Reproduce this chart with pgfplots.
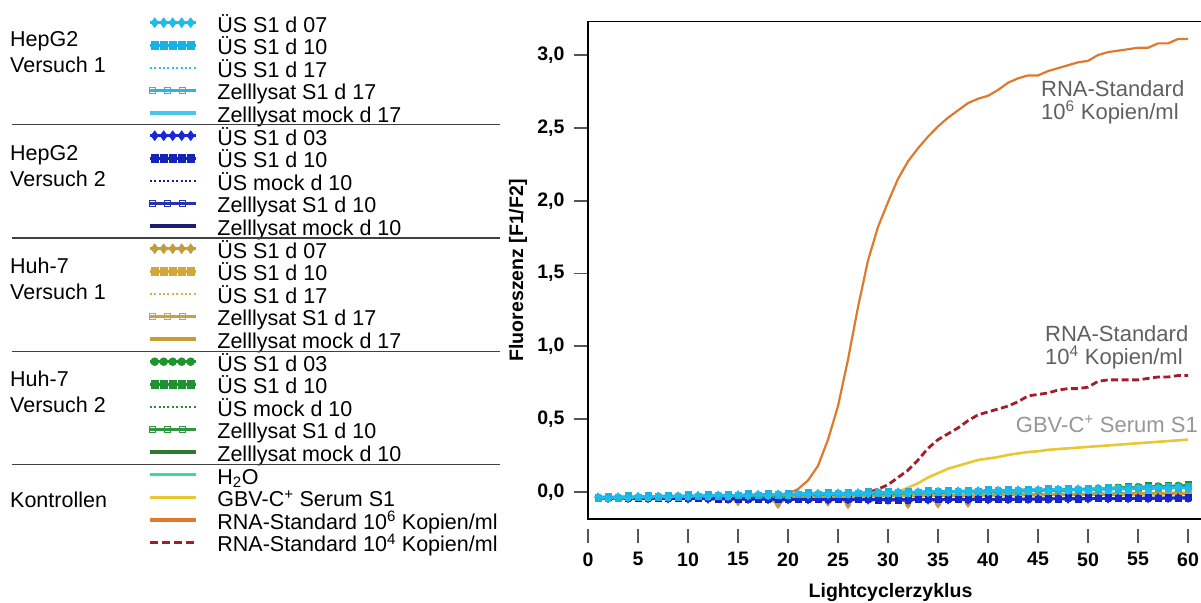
\documentclass[border=0pt]{standalone}
\usepackage{fontspec}
\setmainfont{Liberation Sans}
\usepackage{pgfplots}
\pgfplotsset{compat=1.18}

% HepG2, Versuch 1
\definecolor{cyanA}{RGB}{30,188,232}
\definecolor{cyanB}{RGB}{25,178,226}
\definecolor{cyanC}{RGB}{40,192,230}
\definecolor{cyanD}{RGB}{50,178,222}
\definecolor{cyanE}{RGB}{70,198,235}
% HepG2, Versuch 2
\definecolor{blueA}{RGB}{25,40,215}
\definecolor{blueB}{RGB}{22,35,185}
\definecolor{blueC}{RGB}{30,30,120}
\definecolor{blueD}{RGB}{40,50,175}
\definecolor{blueE}{RGB}{28,28,115}
% Huh-7, Versuch 1
\definecolor{goldA}{RGB}{196,156,60}
\definecolor{goldB}{RGB}{210,168,58}
\definecolor{goldC}{RGB}{214,176,70}
\definecolor{goldD}{RGB}{200,160,75}
\definecolor{goldE}{RGB}{200,158,50}
% Huh-7, Versuch 2
\definecolor{greenA}{RGB}{30,150,45}
\definecolor{greenB}{RGB}{30,145,48}
\definecolor{greenC}{RGB}{45,135,60}
\definecolor{greenD}{RGB}{50,150,65}
\definecolor{greenE}{RGB}{45,120,50}
% Kontrollen
\definecolor{waterc}{RGB}{58,219,150}
\definecolor{serumc}{RGB}{232,200,50}
\definecolor{stdsix}{RGB}{221,122,44}
\definecolor{stdfour}{RGB}{163,30,42}
\definecolor{tickgray}{RGB}{85,85,85}
\definecolor{notegray}{RGB}{96,96,96}
\definecolor{notelight}{RGB}{150,150,150}

\newcommand\legfont{\fontsize{21.5}{22.65}\selectfont}
\newcommand\tickfont{\bfseries\fontsize{19.5}{20}\selectfont}
\newcommand\notefont{\fontsize{22}{23}\selectfont}

\pgfplotsset{
  legmark/.style={legend image code/.code={
      \draw[##1,mark=none] (0pt,0pt) -- (46pt,0pt);
      \draw[##1,only marks] plot coordinates {(5pt,0pt) (14pt,0pt) (23pt,0pt) (32pt,0pt) (41pt,0pt)};}},
  legopen/.style={legend image code/.code={
      \draw[##1,mark=none] (0pt,0pt) -- (46pt,0pt);
      \draw[##1,only marks] plot coordinates {(3pt,0pt) (18pt,0pt) (33pt,0pt)};}},
  legline/.style={legend image code/.code={
      \draw[##1,mark=none] (0pt,0pt) -- (46pt,0pt);}},
  sdiam/.style={line width=2.6pt, mark=diamond*, mark size=3.3pt, mark options={solid}},
  ssq/.style={line width=2.6pt, mark=square*, mark size=2.9pt, mark options={solid}},
  scirc/.style={line width=2.6pt, mark=*, mark size=2.9pt, mark options={solid}},
  sdot/.style={line width=2.2pt, dash pattern=on 2pt off 2.4pt, mark=none},
  sopen/.style={line width=2.6pt, mark=square, mark size=3pt, mark options={solid, fill=white, line width=1.5pt}},
  ssolid/.style={line width=3.4pt, mark=none},
  sdash/.style={line width=3pt, dash pattern=on 8pt off 4pt, mark=none},
  % thinner strokes and marks for the curves themselves
  inplot/.style={line width=2.2pt, mark size=2.4pt},
  inplotline/.style={line width=2.6pt},
}

\begin{document}
\begin{tikzpicture}[x=1pt,y=1pt]
\path[use as bounding box] (0,0) rectangle (1201,602);

\begin{axis}[
  at={(588pt,83pt)}, anchor=south west,
  scale only axis, width=614pt, height=497.3pt,
  xmin=0, xmax=61.4, ymin=-0.185, ymax=3.229,
  clip mode=individual,
  axis line style={line width=1.6pt, black},
  xtick=\empty,
  ytick={0,0.5,1,1.5,2,2.5,3},
  ytick pos=left, tick align=outside, major tick length=14pt,
  ytick style={color=tickgray, line width=1.8pt},
  yticklabel style={font=\tickfont, xshift=-6pt,
    /pgf/number format/.cd, use comma, fixed, fixed zerofill, precision=1, assume math mode=true},
  ylabel={Fluoreszenz [F1/F2]},
  every axis y label/.style={at={(axis description cs:-0.114,0.5)}, rotate=90, anchor=center, font=\tickfont},
  xlabel={Lightcyclerzyklus},
  every axis x label/.style={at={(axis description cs:0.4927,-0.1468)}, anchor=center, font=\tickfont},
  legend cell align=left,
  legend style={at={(axis description cs:-0.7166,1.0207)}, anchor=north west,
    draw=none, fill=none, inner sep=0pt, outer sep=0pt,
    row sep=0pt, column sep=20pt, font=\legfont,
    nodes={inner sep=0pt, outer sep=0pt, text height=20.6pt, text depth=2pt}},
]

% legend entries, in the order of the key
\addlegendimage{legmark, sdiam, color=cyanA}\addlegendentry{ÜS S1 d 07}
\addlegendimage{legmark, ssq, color=cyanB}\addlegendentry{ÜS S1 d 10}
\addlegendimage{legline, sdot, color=cyanC}\addlegendentry{ÜS S1 d 17}
\addlegendimage{legopen, sopen, color=cyanD}\addlegendentry{Zelllysat S1 d 17}
\addlegendimage{legline, ssolid, color=cyanE}\addlegendentry{Zelllysat mock d 17}
\addlegendimage{legmark, sdiam, color=blueA}\addlegendentry{ÜS S1 d 03}
\addlegendimage{legmark, ssq, color=blueB}\addlegendentry{ÜS S1 d 10}
\addlegendimage{legline, sdot, color=blueC}\addlegendentry{ÜS mock d 10}
\addlegendimage{legopen, sopen, color=blueD}\addlegendentry{Zelllysat S1 d 10}
\addlegendimage{legline, ssolid, color=blueE}\addlegendentry{Zelllysat mock d 10}
\addlegendimage{legmark, sdiam, color=goldA}\addlegendentry{ÜS S1 d 07}
\addlegendimage{legmark, ssq, color=goldB}\addlegendentry{ÜS S1 d 10}
\addlegendimage{legline, sdot, color=goldC}\addlegendentry{ÜS S1 d 17}
\addlegendimage{legopen, sopen, color=goldD}\addlegendentry{Zelllysat S1 d 17}
\addlegendimage{legline, ssolid, color=goldE}\addlegendentry{Zelllysat mock d 17}
\addlegendimage{legmark, scirc, color=greenA}\addlegendentry{ÜS S1 d 03}
\addlegendimage{legmark, ssq, color=greenB}\addlegendentry{ÜS S1 d 10}
\addlegendimage{legline, sdot, color=greenC}\addlegendentry{ÜS mock d 10}
\addlegendimage{legopen, sopen, color=greenD}\addlegendentry{Zelllysat S1 d 10}
\addlegendimage{legline, ssolid, color=greenE}\addlegendentry{Zelllysat mock d 10}
\addlegendimage{legline, ssolid, color=waterc}\addlegendentry{H\textsubscript{2}O}
\addlegendimage{legline, ssolid, color=serumc}\addlegendentry{GBV-C\textsuperscript{+} Serum S1}
\addlegendimage{legline, ssolid, color=stdsix}\addlegendentry{RNA-Standard 10\textsuperscript{6} Kopien/ml}
\addlegendimage{legline, sdash, color=stdfour}\addlegendentry{RNA-Standard 10\textsuperscript{4} Kopien/ml}

% Kontrollen
\addplot[forget plot, ssolid, line width=2.4pt, color=waterc] coordinates {(1,-.042)(4,-.040)(7,-.039)(10,-.037)(13,-.035)(16,-.033)(19,-.032)(22,-.030)(25,-.028)(28,-.026)(31,-.024)(34,-.022)(37,-.020)(40,-.018)(43,-.016)(46,-.014)(49,-.012)(52,-.010)(55,-.008)(58,-.006)(60,-.005)};
\addplot[forget plot, ssolid, line width=2.6pt, color=serumc] coordinates {(1,-.033)(5,-.033)(10,-.032)(15,-.032)(20,-.031)(25,-.030)(29,-.028)(30,-.020)(31,.000)(32,.030)(33,.060)(34,.100)(35,.130)(36,.160)(37,.180)(38,.200)(39,.220)(40,.230)(41,.240)(42,.255)(43,.265)(44,.275)(45,.280)(46,.290)(47,.295)(48,.300)(49,.305)(50,.310)(51,.315)(52,.320)(53,.325)(54,.330)(55,.335)(56,.340)(57,.345)(58,.350)(59,.355)(60,.360)};
\addplot[forget plot, ssolid, line width=2.2pt, color=stdsix] coordinates {(1,-.035)(2,-.036)(3,-.034)(4,-.035)(5,-.035)(6,-.034)(7,-.035)(8,-.034)(9,-.033)(10,-.033)(11,-.033)(12,-.032)(13,-.032)(14,-.031)(15,-.030)(16,-.029)(17,-.028)(18,-.025)(19,-.020)(20,-.010)(21,.020)(22,.080)(23,.180)(24,.360)(25,.590)(26,.910)(27,1.270)(28,1.590)(29,1.820)(30,1.990)(31,2.150)(32,2.270)(33,2.360)(34,2.440)(35,2.510)(36,2.570)(37,2.620)(38,2.670)(39,2.700)(40,2.720)(41,2.760)(42,2.810)(43,2.840)(44,2.860)(45,2.860)(46,2.890)(47,2.910)(48,2.930)(49,2.950)(50,2.960)(51,3.000)(52,3.020)(53,3.030)(54,3.040)(55,3.050)(56,3.050)(57,3.080)(58,3.080)(59,3.110)(60,3.110)};
\addplot[forget plot, sdash, line width=2.8pt, dash pattern=on 7pt off 3.5pt, color=stdfour] coordinates {(1,-.035)(5,-.035)(10,-.034)(15,-.033)(20,-.032)(24,-.030)(26,-.026)(27,-.020)(28,-.005)(29,.020)(30,.050)(31,.100)(32,.150)(33,.220)(34,.300)(35,.360)(36,.400)(37,.440)(38,.490)(39,.530)(40,.550)(41,.570)(42,.590)(43,.620)(44,.660)(45,.670)(46,.680)(47,.700)(48,.710)(49,.710)(50,.720)(51,.760)(52,.770)(53,.770)(54,.770)(55,.770)(56,.780)(57,.790)(58,.790)(59,.800)(60,.800)};

% Huh-7, Versuch 1
\addplot[forget plot, ssolid, inplotline, color=goldE] coordinates {(1,-.041)(4,-.040)(7,-.038)(10,-.037)(13,-.035)(16,-.034)(19,-.032)(22,-.031)(25,-.030)(28,-.028)(31,-.027)(34,-.025)(37,-.024)(40,-.022)(43,-.021)(46,-.020)(49,-.018)(52,-.017)(55,-.015)(58,-.014)(60,-.013)};
\addplot[forget plot, sopen, inplot, color=goldD] coordinates {(1,-.043)(3,-.032)(5,-.041)(7,-.030)(9,-.039)(11,-.028)(13,-.037)(15,-.026)(17,-.035)(19,-.024)(21,-.033)(23,-.022)(25,-.032)(27,-.021)(29,-.030)(31,-.019)(33,-.028)(35,-.017)(37,-.026)(39,-.015)(41,-.024)(43,-.013)(45,-.022)(47,-.011)(49,-.020)(51,-.009)(53,-.018)(55,-.007)(57,-.016)(59,-.005)(60,-.015)};
\addplot[forget plot, sdot, color=goldC] coordinates {(1,-.038)(4,-.037)(7,-.035)(10,-.034)(13,-.032)(16,-.031)(19,-.029)(22,-.028)(25,-.027)(28,-.025)(31,-.024)(34,-.022)(37,-.021)(40,-.019)(43,-.018)(46,-.017)(49,-.015)(52,-.014)(55,-.012)(58,-.011)(60,-.010)};
\addplot[forget plot, ssq, inplot, color=goldB] coordinates {(1,-.042)(2,-.034)(3,-.041)(4,-.033)(5,-.040)(6,-.032)(7,-.039)(8,-.031)(9,-.038)(10,-.030)(11,-.037)(12,-.029)(13,-.036)(14,-.028)(15,-.035)(16,-.027)(17,-.034)(18,-.026)(19,-.033)(20,-.025)(21,-.032)(22,-.024)(23,-.031)(24,-.023)(25,-.031)(26,-.022)(27,-.030)(28,-.021)(29,-.029)(30,-.020)(31,-.028)(32,-.019)(33,-.027)(34,-.018)(35,-.026)(36,-.017)(37,-.025)(38,-.016)(39,-.024)(40,-.015)(41,-.023)(42,-.014)(43,-.022)(44,-.013)(45,-.021)(46,-.013)(47,-.020)(48,-.012)(49,-.019)(50,-.011)(51,-.018)(52,-.010)(53,-.017)(54,-.009)(55,-.016)(56,-.008)(57,-.015)(58,-.007)(59,-.014)(60,-.006)};
\addplot[forget plot, sdiam, inplot, color=goldA] coordinates {(1,-.032)(2,-.044)(3,-.031)(4,-.043)(5,-.030)(6,-.042)(7,-.029)(8,-.041)(9,-.028)(10,-.040)(11,-.027)(12,-.039)(13,-.026)(14,-.038)(15,-.070)(16,-.037)(17,-.025)(18,-.036)(19,-.088)(20,-.035)(21,-.023)(22,-.034)(23,-.022)(24,-.072)(25,-.021)(26,-.090)(27,-.020)(28,-.031)(29,-.019)(30,-.030)(31,-.018)(32,-.088)(33,-.017)(34,-.028)(35,-.085)(36,-.027)(37,-.015)(38,-.080)(39,-.014)(40,-.025)(41,-.013)(42,-.024)(43,-.012)(44,-.023)(45,-.011)(46,-.022)(47,-.010)(48,-.021)(49,-.009)(50,-.020)(51,-.008)(52,-.019)(53,-.007)(54,-.018)(55,-.006)(56,-.017)(57,-.005)(58,-.016)(59,-.004)(60,-.015)};

% Huh-7, Versuch 2
\addplot[forget plot, ssolid, inplotline, color=greenE] coordinates {(1,-.040)(4,-.037)(7,-.034)(10,-.030)(13,-.027)(16,-.023)(19,-.020)(22,-.016)(25,-.013)(28,-.009)(31,-.005)(34,-.002)(37,.002)(40,.005)(43,.009)(46,.012)(49,.016)(52,.024)(55,.032)(58,.038)(60,.042)};
\addplot[forget plot, sopen, inplot, color=greenD] coordinates {(1,-.036)(3,-.043)(5,-.033)(7,-.040)(9,-.029)(11,-.035)(13,-.024)(15,-.030)(17,-.019)(19,-.026)(21,-.014)(23,-.021)(25,-.010)(27,-.016)(29,-.005)(31,-.011)(33,.000)(35,-.007)(37,.005)(39,-.002)(41,.009)(43,.003)(45,.014)(47,.008)(49,.019)(51,.020)(53,.032)(55,.028)(57,.040)(59,.036)(60,.044)};
\addplot[forget plot, sdot, color=greenC] coordinates {(1,-.042)(4,-.038)(7,-.035)(10,-.031)(13,-.028)(16,-.024)(19,-.021)(22,-.017)(25,-.014)(28,-.010)(31,-.006)(34,-.003)(37,.001)(40,.004)(43,.008)(46,.011)(49,.015)(52,.022)(55,.030)(58,.036)(60,.040)};
\addplot[forget plot, ssq, inplot, color=greenB] coordinates {(1,-.044)(2,-.035)(3,-.042)(4,-.032)(5,-.039)(6,-.030)(7,-.037)(8,-.028)(9,-.035)(10,-.025)(11,-.032)(12,-.023)(13,-.030)(14,-.021)(15,-.027)(16,-.018)(17,-.025)(18,-.016)(19,-.023)(20,-.013)(21,-.020)(22,-.011)(23,-.018)(24,-.009)(25,-.016)(26,-.006)(27,-.013)(28,-.004)(29,-.011)(30,-.002)(31,-.008)(32,.001)(33,-.006)(34,.003)(35,-.004)(36,.006)(37,-.001)(38,.008)(39,.001)(40,.010)(41,.003)(42,.013)(43,.006)(44,.015)(45,.008)(46,.017)(47,.011)(48,.020)(49,.013)(50,.022)(51,.018)(52,.030)(53,.024)(54,.035)(55,.030)(56,.042)(57,.034)(58,.046)(59,.038)(60,.050)};
\addplot[forget plot, scirc, inplot, color=greenA] coordinates {(1,-.038)(2,-.047)(3,-.036)(4,-.044)(5,-.033)(6,-.042)(7,-.031)(8,-.040)(9,-.029)(10,-.037)(11,-.026)(12,-.035)(13,-.024)(14,-.033)(15,-.021)(16,-.030)(17,-.019)(18,-.028)(19,-.017)(20,-.025)(21,-.014)(22,-.023)(23,-.012)(24,-.021)(25,-.010)(26,-.018)(27,-.007)(28,-.016)(29,-.005)(30,-.014)(31,-.002)(32,-.011)(33,.000)(34,-.009)(35,.002)(36,-.006)(37,.005)(38,-.004)(39,.007)(40,-.002)(41,.009)(42,.001)(43,.012)(44,.003)(45,.014)(46,.005)(47,.017)(48,.008)(49,.019)(50,.010)(51,.028)(52,.020)(53,.033)(54,.026)(55,.039)(56,.030)(57,.043)(58,.035)(59,.047)(60,.040)};

% HepG2, Versuch 2
\addplot[forget plot, ssolid, inplotline, color=blueE] coordinates {(1,-.040)(3,-.041)(5,-.042)(7,-.043)(9,-.044)(11,-.045)(13,-.046)(15,-.047)(17,-.048)(19,-.049)(21,-.050)(23,-.051)(25,-.051)(27,-.052)(29,-.053)(31,-.053)(33,-.052)(35,-.052)(37,-.051)(39,-.050)(41,-.050)(43,-.049)(45,-.048)(47,-.047)(49,-.046)(51,-.045)(53,-.044)(55,-.043)(57,-.042)(59,-.041)(60,-.040)};
\addplot[forget plot, sopen, inplot, color=blueD] coordinates {(1,-.038)(2,-.045)(3,-.039)(4,-.046)(5,-.040)(6,-.047)(7,-.041)(8,-.048)(9,-.042)(10,-.049)(11,-.043)(12,-.050)(13,-.044)(14,-.051)(15,-.045)(16,-.052)(17,-.046)(18,-.053)(19,-.047)(20,-.054)(21,-.048)(22,-.054)(23,-.049)(24,-.055)(25,-.049)(26,-.056)(27,-.050)(28,-.056)(29,-.051)(30,-.057)(31,-.051)(32,-.057)(33,-.050)(34,-.056)(35,-.050)(36,-.055)(37,-.049)(38,-.055)(39,-.048)(40,-.054)(41,-.048)(42,-.053)(43,-.047)(44,-.052)(45,-.046)(46,-.051)(47,-.045)(48,-.050)(49,-.044)(50,-.049)(51,-.043)(52,-.048)(53,-.042)(54,-.047)(55,-.041)(56,-.046)(57,-.040)(58,-.045)(59,-.039)(60,-.044)};
\addplot[forget plot, sdot, color=blueC] coordinates {(1,-.043)(3,-.044)(5,-.045)(7,-.046)(9,-.047)(11,-.048)(13,-.049)(15,-.050)(17,-.051)(19,-.052)(21,-.053)(23,-.054)(25,-.054)(27,-.055)(29,-.056)(31,-.056)(33,-.055)(35,-.055)(37,-.054)(39,-.053)(41,-.053)(43,-.052)(45,-.051)(47,-.050)(49,-.049)(51,-.048)(53,-.047)(55,-.046)(57,-.045)(59,-.044)(60,-.043)};
\addplot[forget plot, ssq, inplot, color=blueB] coordinates {(1,-.042)(2,-.035)(3,-.043)(4,-.036)(5,-.044)(6,-.037)(7,-.045)(8,-.038)(9,-.046)(10,-.039)(11,-.047)(12,-.040)(13,-.048)(14,-.041)(15,-.049)(16,-.042)(17,-.050)(18,-.043)(19,-.051)(20,-.044)(21,-.052)(22,-.044)(23,-.053)(24,-.045)(25,-.053)(26,-.046)(27,-.054)(28,-.046)(29,-.055)(30,-.047)(31,-.055)(32,-.047)(33,-.054)(34,-.046)(35,-.054)(36,-.045)(37,-.053)(38,-.045)(39,-.052)(40,-.044)(41,-.052)(42,-.043)(43,-.051)(44,-.042)(45,-.050)(46,-.041)(47,-.049)(48,-.040)(49,-.048)(50,-.039)(51,-.047)(52,-.038)(53,-.046)(54,-.037)(55,-.045)(56,-.036)(57,-.044)(58,-.035)(59,-.043)(60,-.034)};
\addplot[forget plot, sdiam, inplot, color=blueA] coordinates {(1,-.034)(2,-.047)(3,-.035)(4,-.048)(5,-.036)(6,-.049)(7,-.037)(8,-.050)(9,-.038)(10,-.051)(11,-.039)(12,-.052)(13,-.040)(14,-.053)(15,-.041)(16,-.054)(17,-.042)(18,-.055)(19,-.043)(20,-.056)(21,-.044)(22,-.056)(23,-.045)(24,-.057)(25,-.045)(26,-.058)(27,-.046)(28,-.058)(29,-.047)(30,-.059)(31,-.047)(32,-.059)(33,-.046)(34,-.058)(35,-.046)(36,-.057)(37,-.045)(38,-.057)(39,-.044)(40,-.056)(41,-.044)(42,-.055)(43,-.043)(44,-.054)(45,-.042)(46,-.053)(47,-.041)(48,-.052)(49,-.040)(50,-.051)(51,-.039)(52,-.050)(53,-.038)(54,-.049)(55,-.037)(56,-.048)(57,-.036)(58,-.047)(59,-.035)(60,-.046)};

% HepG2, Versuch 1
\addplot[forget plot, ssolid, inplotline, color=cyanE] coordinates {(1,-.036)(2,-.035)(3,-.034)(4,-.032)(5,-.031)(6,-.030)(7,-.029)(8,-.024)(9,-.027)(10,-.025)(11,-.024)(12,-.023)(13,-.022)(14,-.021)(15,-.022)(16,-.018)(17,-.017)(18,-.016)(19,-.015)(20,-.013)(21,-.012)(22,-.007)(23,-.010)(24,-.009)(25,-.008)(26,-.006)(27,-.005)(28,-.004)(29,-.003)(30,.001)(31,.000)(32,.001)(33,.002)(34,.003)(35,.004)(36,.006)(37,.004)(38,.008)(39,.009)(40,.010)(41,.011)(42,.013)(43,.014)(44,.019)(45,.016)(46,.017)(47,.019)(48,.020)(49,.021)(50,.022)(51,.026)(52,.024)(53,.026)(54,.027)(55,.028)(56,.033)(57,.030)(58,.032)(59,.030)(60,.034)};
\addplot[forget plot, sopen, inplot, color=cyanD] coordinates {(1,-.037)(2,-.046)(3,-.035)(4,-.043)(5,-.032)(6,-.041)(7,-.030)(8,-.039)(9,-.028)(10,-.036)(11,-.025)(12,-.034)(13,-.023)(14,-.032)(15,-.020)(16,-.029)(17,-.018)(18,-.027)(19,-.016)(20,-.024)(21,-.013)(22,-.022)(23,-.011)(24,-.020)(25,-.009)(26,-.017)(27,-.006)(28,-.015)(29,-.004)(30,-.013)(31,-.001)(32,-.010)(33,.001)(34,-.008)(35,.003)(36,-.005)(37,.006)(38,-.003)(39,.008)(40,-.001)(41,.010)(42,.002)(43,.013)(44,.004)(45,.015)(46,.006)(47,.018)(48,.009)(49,.020)(50,.011)(51,.022)(52,.013)(53,.025)(54,.016)(55,.027)(56,.018)(57,.029)(58,.021)(59,.032)(60,.023)};
\addplot[forget plot, sdot, color=cyanC] coordinates {(1,-.038)(2,-.037)(3,-.036)(4,-.034)(5,-.030)(6,-.032)(7,-.031)(8,-.030)(9,-.029)(10,-.027)(11,-.026)(12,-.028)(13,-.024)(14,-.023)(15,-.021)(16,-.020)(17,-.019)(18,-.018)(19,-.017)(20,-.012)(21,-.014)(22,-.013)(23,-.012)(24,-.011)(25,-.010)(26,-.008)(27,-.010)(28,-.006)(29,-.005)(30,-.004)(31,-.002)(32,-.001)(33,.003)(34,.001)(35,.002)(36,.004)(37,.005)(38,.006)(39,.007)(40,.008)(41,.006)(42,.011)(43,.012)(44,.013)(45,.014)(46,.015)(47,.020)(48,.018)(49,.019)(50,.020)(51,.021)(52,.022)(53,.021)(54,.025)(55,.026)(56,.027)(57,.028)(58,.033)(59,.031)(60,.032)};
\addplot[forget plot, ssq, inplot, color=cyanB] coordinates {(1,-.043)(2,-.030)(3,-.041)(4,-.027)(5,-.038)(6,-.025)(7,-.036)(8,-.023)(9,-.034)(10,-.020)(11,-.031)(12,-.018)(13,-.029)(14,-.016)(15,-.026)(16,-.013)(17,-.024)(18,-.011)(19,-.022)(20,-.008)(21,-.019)(22,-.006)(23,-.017)(24,-.004)(25,-.015)(26,-.001)(27,-.012)(28,.001)(29,-.010)(30,.003)(31,-.007)(32,.006)(33,-.005)(34,.008)(35,-.003)(36,.011)(37,.000)(38,.013)(39,.002)(40,.015)(41,.004)(42,.018)(43,.007)(44,.020)(45,.009)(46,.022)(47,.012)(48,.025)(49,.014)(50,.027)(51,.016)(52,.029)(53,.019)(54,.032)(55,.021)(56,.034)(57,.023)(58,.037)(59,.026)(60,.039)};
\addplot[forget plot, sdiam, inplot, color=cyanA] coordinates {(1,-.032)(2,-.047)(3,-.030)(4,-.044)(5,-.027)(6,-.042)(7,-.025)(8,-.040)(9,-.023)(10,-.037)(11,-.020)(12,-.035)(13,-.018)(14,-.033)(15,-.015)(16,-.030)(17,-.013)(18,-.028)(19,-.011)(20,-.025)(21,-.008)(22,-.023)(23,-.006)(24,-.021)(25,-.004)(26,-.018)(27,-.001)(28,-.016)(29,.001)(30,-.014)(31,.004)(32,-.011)(33,.006)(34,-.009)(35,.008)(36,-.006)(37,.011)(38,-.004)(39,.013)(40,-.002)(41,.015)(42,.001)(43,.018)(44,.003)(45,.020)(46,.005)(47,.023)(48,.008)(49,.025)(50,.010)(51,.027)(52,.012)(53,.030)(54,.015)(55,.032)(56,.017)(57,.034)(58,.020)(59,.037)(60,.022)};

% curve labels
\node[anchor=base west, font=\notefont, text=notegray, inner sep=0pt] at (axis cs:45.3,2.718) {RNA-Standard};
\node[anchor=base west, font=\notefont, text=notegray, inner sep=0pt] at (axis cs:45.3,2.560) {10\textsuperscript{6} Kopien/ml};
\node[anchor=base west, font=\notefont, text=notegray, inner sep=0pt] at (axis cs:45.7,1.036) {RNA-Standard};
\node[anchor=base west, font=\notefont, text=notegray, inner sep=0pt] at (axis cs:45.7,0.879) {10\textsuperscript{4} Kopien/ml};
\node[anchor=base east, font=\notefont, text=notelight, inner sep=0pt] at (axis cs:61.0,0.410) {GBV-C\textsuperscript{+} Serum S1};
\end{axis}

% detached cycle axis below the plot frame
\begin{axis}[
  at={(588pt,59pt)}, anchor=south west,
  scale only axis, width=614pt, height=14pt,
  xmin=0, xmax=61.4, ymin=0, ymax=1,
  axis x line*=bottom, hide y axis,
  x axis line style={draw=none},
  xtick={0,5,...,60}, tick align=inside, major tick length=14pt,
  xtick style={color=tickgray, line width=1.8pt},
  xticklabel style={font=\tickfont, yshift=-6pt, /pgf/number format/assume math mode=true},
]
\end{axis}

% group labels and separators of the key
\begin{scope}[every node/.style={anchor=base west, font=\legfont, inner sep=0pt}]
\node at (10,555) {HepG2};     \node at (10,529) {Versuch 1};
\node at (10,441.75) {HepG2};  \node at (10,415.75) {Versuch 2};
\node at (10,328.5) {Huh-7};   \node at (10,302.5) {Versuch 1};
\node at (10,215.25) {Huh-7};  \node at (10,189.25) {Versuch 2};
\node at (10,94) {Kontrollen};
\end{scope}
\foreach \yy in {477.4,364.1,250.8,137.6}
  \draw[line width=1.3pt, black!75] (12,\yy) -- (500,\yy);
\end{tikzpicture}
\end{document}
